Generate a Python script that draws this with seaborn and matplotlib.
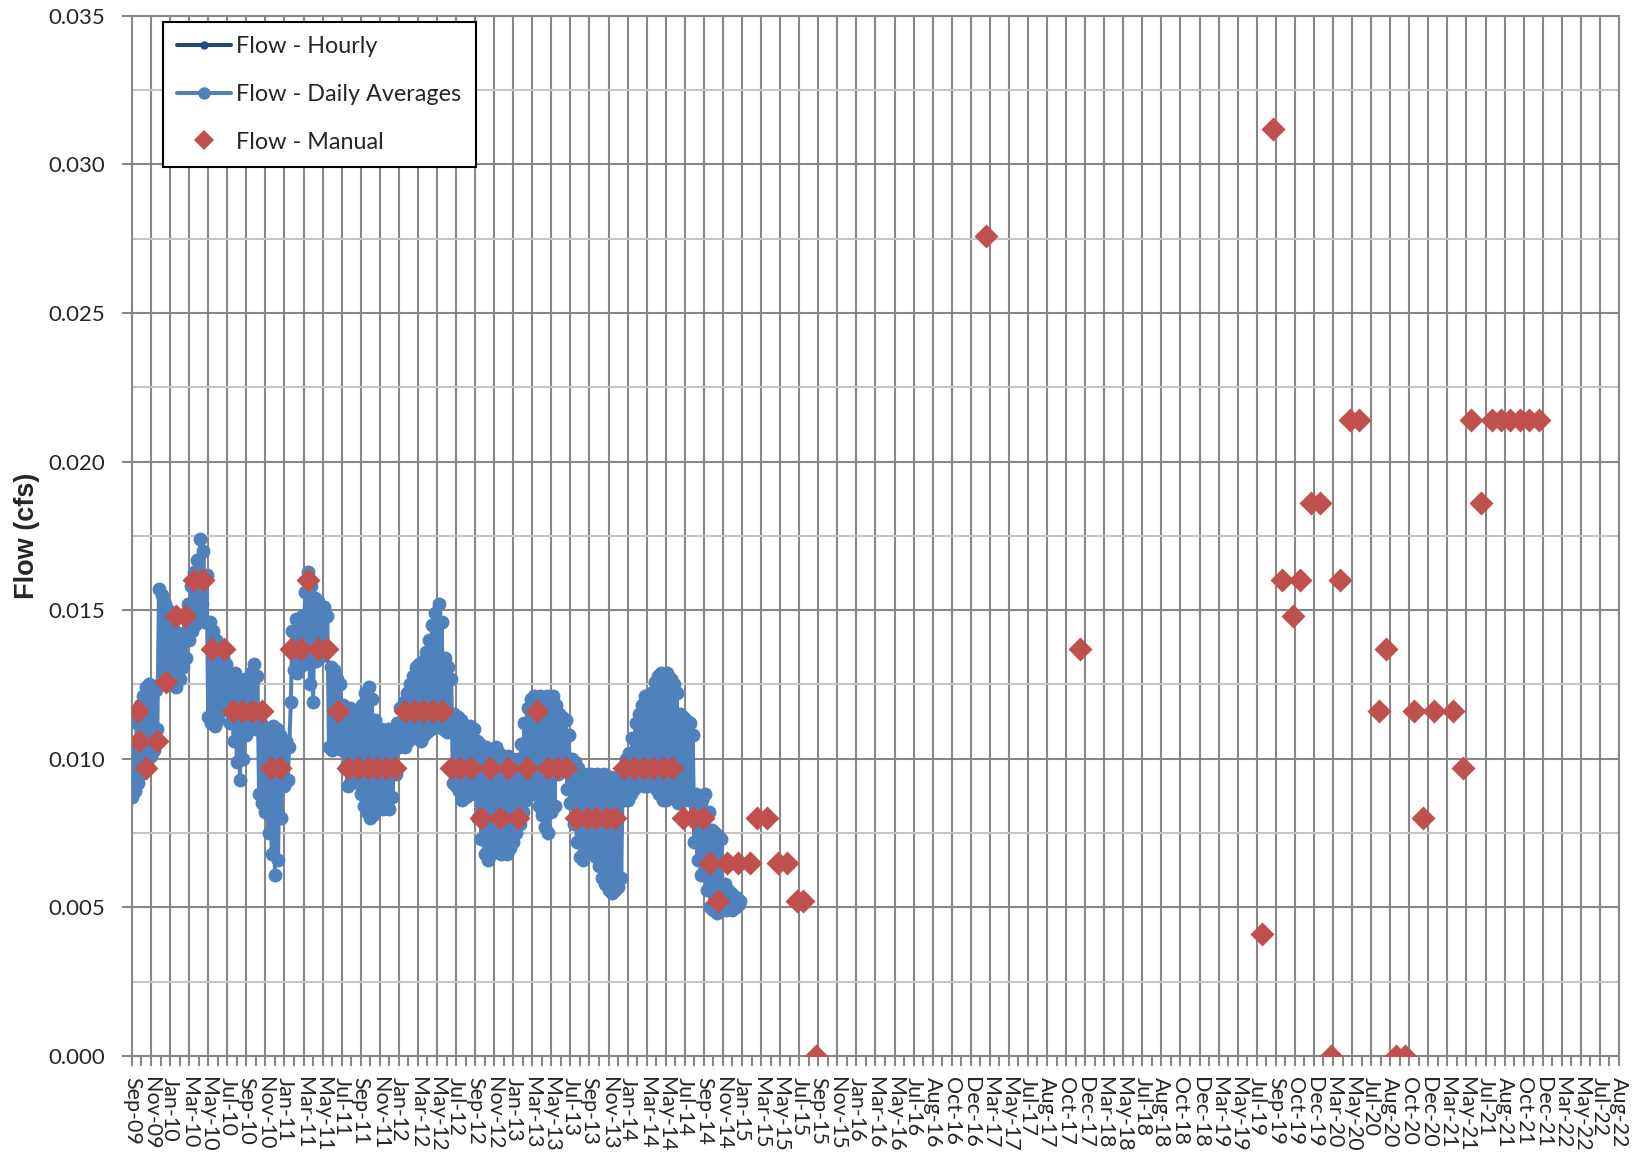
import numpy as np
import pandas as pd
import matplotlib
matplotlib.use("Agg")
import matplotlib.pyplot as plt
import seaborn as sns
from matplotlib.ticker import FixedLocator, MultipleLocator, FormatStrFormatter

# --- x axis labels (one per gridline, as in the original worksheet chart) ---
x_labels = ["Sep-09", "Nov-09", "Jan-10", "Mar-10", "May-10", "Jul-10", "Sep-10", "Nov-10",
            "Jan-11", "Mar-11", "May-11", "Jul-11", "Sep-11", "Nov-11", "Jan-12", "Mar-12",
            "May-12", "Jul-12", "Sep-12", "Nov-12", "Jan-13", "Mar-13", "May-13", "Jul-13",
            "Sep-13", "Nov-13", "Jan-14", "Mar-14", "May-14", "Jul-14", "Sep-14", "Nov-14",
            "Jan-15", "Mar-15", "May-15", "Jul-15", "Sep-15", "Nov-15", "Jan-16", "Mar-16",
            "May-16", "Jul-16", "Aug-16", "Oct-16", "Dec-16", "Mar-17", "May-17", "Jul-17",
            "Aug-17", "Oct-17", "Dec-17", "Mar-18", "May-18", "Jul-18", "Aug-18", "Oct-18",
            "Dec-18", "Mar-19", "May-19", "Jul-19", "Sep-19", "Oct-19", "Dec-19", "Mar-20",
            "May-20", "Jul-20", "Aug-20", "Oct-20", "Dec-20", "Mar-21", "May-21", "Jul-21",
            "Aug-21", "Oct-21", "Dec-21", "Mar-22", "May-22", "Jul-22", "Aug-22"]

# --- Flow - Daily Averages (cfs), ~5 day samples, 12 per label interval ---
samples_per_label = 12
daily_flow = [
    0.0087, 0.0105, 0.0089, 0.0112, 0.0092, 0.0118, 0.0095, 0.0121, 0.0097, 0.0124, 0.0100, 0.0125,
    0.0101, 0.0124, 0.0103, 0.0123, 0.0110, 0.0157, 0.0126, 0.0155, 0.0128, 0.0152, 0.0127, 0.0150,
    0.0125, 0.0146, 0.0126, 0.0143, 0.0124, 0.0140, 0.0127, 0.0142, 0.0131, 0.0148, 0.0134, 0.0152,
    0.0140, 0.0158, 0.0143, 0.0163, 0.0145, 0.0167, 0.0148, 0.0174, 0.0152, 0.0170, 0.0146, 0.0162,
    0.0114, 0.0146, 0.0112, 0.0143, 0.0111, 0.0140, 0.0113, 0.0137, 0.0116, 0.0134, 0.0119, 0.0132,
    0.0118, 0.0129, 0.0112, 0.0128, 0.0106, 0.0129, 0.0099, 0.0127, 0.0093, 0.0126, 0.0100, 0.0127,
    0.0108, 0.0125, 0.0110, 0.0129, 0.0111, 0.0132, 0.0110, 0.0128, 0.0088, 0.0112, 0.0085, 0.0110,
    0.0082, 0.0108, 0.0075, 0.0110, 0.0068, 0.0111, 0.0061, 0.0110, 0.0066, 0.0108, 0.0080, 0.0106,
    0.0091, 0.0106, 0.0093, 0.0104, 0.0119, 0.0143, 0.0130, 0.0147, 0.0129, 0.0145, 0.0131, 0.0148,
    0.0132, 0.0156, 0.0133, 0.0163, 0.0125, 0.0158, 0.0119, 0.0154, 0.0133, 0.0153, 0.0134, 0.0151,
    0.0135, 0.0151, 0.0136, 0.0148, 0.0104, 0.0131, 0.0103, 0.0130, 0.0105, 0.0127, 0.0104, 0.0125,
    0.0103, 0.0118, 0.0097, 0.0116, 0.0091, 0.0117, 0.0093, 0.0116, 0.0095, 0.0115, 0.0092, 0.0116,
    0.0088, 0.0118, 0.0084, 0.0122, 0.0082, 0.0124, 0.0080, 0.0120, 0.0081, 0.0113, 0.0083, 0.0110,
    0.0085, 0.0110, 0.0083, 0.0109, 0.0084, 0.0110, 0.0083, 0.0108, 0.0087, 0.0110, 0.0095, 0.0112,
    0.0104, 0.0117, 0.0105, 0.0119, 0.0104, 0.0122, 0.0106, 0.0125, 0.0107, 0.0128, 0.0108, 0.0131,
    0.0107, 0.0132, 0.0106, 0.0133, 0.0108, 0.0136, 0.0109, 0.0140, 0.0110, 0.0145, 0.0112, 0.0149,
    0.0118, 0.0152, 0.0115, 0.0146, 0.0110, 0.0134, 0.0109, 0.0131, 0.0110, 0.0127, 0.0092, 0.0115,
    0.0091, 0.0114, 0.0089, 0.0113, 0.0086, 0.0111, 0.0087, 0.0110, 0.0089, 0.0111, 0.0090, 0.0110,
    0.0088, 0.0106, 0.0080, 0.0105, 0.0073, 0.0104, 0.0068, 0.0104, 0.0066, 0.0103, 0.0068, 0.0102,
    0.0072, 0.0104, 0.0070, 0.0102, 0.0068, 0.0101, 0.0070, 0.0100, 0.0068, 0.0101, 0.0070, 0.0100,
    0.0072, 0.0099, 0.0075, 0.0100, 0.0078, 0.0105, 0.0082, 0.0112, 0.0086, 0.0117, 0.0088, 0.0120,
    0.0090, 0.0121, 0.0088, 0.0120, 0.0084, 0.0121, 0.0081, 0.0119, 0.0077, 0.0121, 0.0075, 0.0120,
    0.0082, 0.0121, 0.0084, 0.0118, 0.0095, 0.0115, 0.0100, 0.0114, 0.0098, 0.0113, 0.0090, 0.0108,
    0.0085, 0.0100, 0.0078, 0.0099, 0.0072, 0.0097, 0.0067, 0.0095, 0.0066, 0.0094, 0.0068, 0.0095,
    0.0070, 0.0095, 0.0068, 0.0094, 0.0067, 0.0095, 0.0064, 0.0094, 0.0060, 0.0095, 0.0058, 0.0094,
    0.0056, 0.0094, 0.0055, 0.0093, 0.0056, 0.0094, 0.0057, 0.0093, 0.0060, 0.0097, 0.0086, 0.0100,
    0.0086, 0.0102, 0.0088, 0.0107, 0.0090, 0.0112, 0.0091, 0.0115, 0.0092, 0.0118, 0.0091, 0.0121,
    0.0091, 0.0118, 0.0092, 0.0122, 0.0093, 0.0126, 0.0090, 0.0128, 0.0088, 0.0129, 0.0086, 0.0128,
    0.0086, 0.0129, 0.0088, 0.0127, 0.0090, 0.0125, 0.0087, 0.0122, 0.0085, 0.0115, 0.0086, 0.0114,
    0.0088, 0.0113, 0.0086, 0.0112, 0.0080, 0.0108, 0.0072, 0.0088, 0.0066, 0.0087, 0.0061, 0.0086,
    0.0062, 0.0088, 0.0056, 0.0082, 0.0050, 0.0076, 0.0049, 0.0075, 0.0048, 0.0074, 0.0049, 0.0073,
    0.0050, 0.0058, 0.0049, 0.0056, 0.0050, 0.0055, 0.0049, 0.0054, 0.0050, 0.0053, 0.0051, 0.0052,
]

# --- Flow - Hourly (sits underneath the daily averages, nothing visible) ---
hourly_pos = []
hourly_flow = []

# --- Flow - Manual readings: position along the label axis and value ---
manual_pos = [0.30, 0.37, 0.73, 1.33, 1.80, 2.31, 2.78, 3.25, 3.74, 4.18,
              4.85, 5.32, 5.79, 6.28, 6.81, 7.28, 7.76, 8.33, 8.85, 9.25,
              9.78, 10.25, 10.79, 11.32, 11.88, 12.37, 12.84, 13.33, 13.80, 14.32,
              14.81, 15.28, 15.77, 16.28, 16.72, 17.21, 17.80, 18.33, 18.77, 19.28,
              19.73, 20.26, 20.73, 21.23, 21.80, 22.30, 22.79, 23.31, 23.86, 24.34,
              24.86, 25.36, 25.82, 26.35, 26.85, 27.34, 27.86, 28.34, 28.91, 29.45,
              29.97, 30.30, 30.76, 31.20, 31.80, 32.40, 32.80, 33.32, 33.89, 34.38,
              34.90, 35.20, 35.86, 44.82, 49.74, 59.30, 59.85, 60.33, 60.88, 61.27,
              61.87, 62.31, 62.90, 63.35, 63.89, 64.38, 65.42, 65.80, 66.29, 66.78,
              67.27, 67.71, 68.31, 69.30, 69.84, 70.23, 70.77, 71.32, 71.81, 72.31,
              72.80, 73.29, 73.83]
manual_flow = [0.0116, 0.0106, 0.0097, 0.0106, 0.0126, 0.0148, 0.0148, 0.0160, 0.0160, 0.0137,
               0.0137, 0.0116, 0.0116, 0.0116, 0.0116, 0.0097, 0.0097, 0.0137, 0.0137, 0.0160,
               0.0137, 0.0137, 0.0116, 0.0097, 0.0097, 0.0097, 0.0097, 0.0097, 0.0097, 0.0116,
               0.0116, 0.0116, 0.0116, 0.0116, 0.0097, 0.0097, 0.0097, 0.0080, 0.0097, 0.0080,
               0.0097, 0.0080, 0.0097, 0.0116, 0.0097, 0.0097, 0.0097, 0.0080, 0.0080, 0.0080,
               0.0080, 0.0080, 0.0097, 0.0097, 0.0097, 0.0097, 0.0097, 0.0097, 0.0080, 0.0080,
               0.0080, 0.0065, 0.0052, 0.0065, 0.0065, 0.0065, 0.0080, 0.0080, 0.0065, 0.0065,
               0.0052, 0.0052, 0.0000, 0.0276, 0.0137, 0.0041, 0.0312, 0.0160, 0.0148, 0.0160,
               0.0186, 0.0186, 0.0000, 0.0160, 0.0214, 0.0214, 0.0116, 0.0137, 0.0000, 0.0000,
               0.0116, 0.0080, 0.0116, 0.0116, 0.0097, 0.0214, 0.0186, 0.0214, 0.0214, 0.0214,
               0.0214, 0.0214, 0.0214]

daily = pd.DataFrame({"pos": np.arange(len(daily_flow)) / samples_per_label,
                      "flow": daily_flow})
manual = pd.DataFrame({"pos": manual_pos, "flow": manual_flow})

HOURLY_C = "#1F497D"
DAILY_C = "#4F81BD"
MANUAL_C = "#C0504D"
GRID_C = "#878787"

sns.set_theme(style="white")
plt.rcParams["font.family"] = ["Lato", "DejaVu Sans"]

fig = plt.figure(figsize=(16.33, 11.54), dpi=100)
ax = fig.add_axes([0.0808, 0.0849, 0.9106, 0.9015])

# hourly series (empty) + daily averages + manual readings
hourly_line, = ax.plot(hourly_pos, hourly_flow, color=HOURLY_C, lw=2.9, marker="o",
                       ms=5, label="Flow - Hourly", zorder=2)
sns.lineplot(data=daily, x="pos", y="flow", ax=ax, color=DAILY_C, lw=2.9, marker="o",
             markersize=10, markeredgewidth=0, sort=False, estimator=None, legend=False,
             zorder=3)
sns.scatterplot(data=manual, x="pos", y="flow", ax=ax, color=MANUAL_C, marker="D",
                s=150, linewidth=0, legend=False, zorder=4)

# --- axes ---
ax.set_xlim(0, len(x_labels) - 1)
ax.set_ylim(0, 0.035)
ax.xaxis.set_major_locator(FixedLocator(np.arange(len(x_labels))))
ax.set_xticklabels(x_labels, rotation=270, ha="center", va="top", fontsize=15.5)
ax.xaxis.set_minor_locator(MultipleLocator(0.5))
ax.yaxis.set_major_locator(MultipleLocator(0.005))
ax.yaxis.set_minor_locator(MultipleLocator(0.0025))
ax.yaxis.set_major_formatter(FormatStrFormatter("%.3f"))
ax.tick_params(axis="y", which="major", labelsize=16, length=7, width=1.5,
               color=GRID_C, pad=12, left=True)
ax.tick_params(axis="y", which="minor", length=0)
ax.tick_params(axis="x", which="both", length=7, width=1.5, color=GRID_C,
               pad=8, bottom=True)

ax.grid(True, which="major", axis="both", color=GRID_C, lw=1.5)
ax.grid(True, which="minor", axis="y", color="#C4C4C4", lw=1.5)
ax.set_axisbelow(True)
for s in ax.spines.values():
    s.set_color(GRID_C)
    s.set_linewidth(1.5)

ax.set_xlabel("")
ax.set_ylabel("Flow (cfs)", fontsize=19.5, fontweight="bold",
              family=["Liberation Sans", "DejaVu Sans"])
ax.yaxis.set_label_coords(-0.062, 0.5)

# --- legend ---
daily_handle = plt.Line2D([], [], color=DAILY_C, lw=2.9, marker="o", ms=9, mew=0)
manual_handle = plt.Line2D([], [], color=MANUAL_C, lw=0, marker="D", ms=10, mew=0)
leg = ax.legend([hourly_line, daily_handle, manual_handle],
                ["Flow - Hourly", "Flow - Daily Averages", "Flow - Manual"],
                loc="upper left", bbox_to_anchor=(0.0208, 0.994), fontsize=16.8,
                frameon=True, fancybox=False, framealpha=1, edgecolor="black",
                handlelength=2.3, handletextpad=0.25, labelspacing=1.15,
                borderpad=0.6, borderaxespad=0)
leg.get_frame().set_linewidth(1.5)

fig.savefig("out.png", dpi=100)
